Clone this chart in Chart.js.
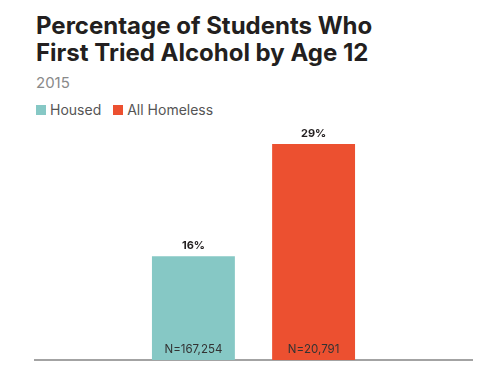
<!DOCTYPE html>
<html>
<head>
<meta charset="utf-8">
<script src="https://cdn.jsdelivr.net/npm/chart.js@4"></script>
<style>
    body { margin: 0; width: 502px; height: 378px; background: #fff; position: relative; overflow: hidden; font-family: Inter, 'Noto Sans', sans-serif; }
    #title { position: absolute; left: 36px; top: 12px; margin: 0; font-size: 24px; line-height: 27px; font-weight: 700; color: #231f20; letter-spacing: 0; }
    #subtitle { position: absolute; left: 36px; top: 73px; font-size: 15px; color: #8a8a8a; }
    #legend { position: absolute; left: 36px; top: 101px; display: flex; font-size: 14px; color: #555; }
    .legend-item { display: flex; align-items: center; margin-right: 12px; }
    .legend-swatch { width: 10px; height: 10px; margin-right: 4px; }
    #chart-wrap { position: absolute; left: 0; top: 0; width: 502px; height: 378px; }
</style>
</head>
<body>
<h1 id="title">Percentage of Students Who<br>First Tried Alcohol by Age 12</h1>
<div id="subtitle">2015</div>
<div id="legend"></div>
<div id="chart-wrap"><canvas id="chart" width="502" height="378"></canvas></div>
<script>
// one group (the year), one bar per student population
const categories = ['2015'];
const seriesNames = ['Housed', 'All Homeless'];
const seriesValues = [16, 29];          // percent
const sampleSizes = [167254, 20791];
const seriesColors = ['#86c8c5', '#ec5030'];

// the source chart's bars don't start from zero, its axis sits at ~4%
const yMin = 4;
const yMax = 32;

// legend as html, same order as the bars
const legend = document.getElementById('legend');
seriesNames.forEach((name, i) => {
    const item = document.createElement('div');
    item.className = 'legend-item';
    item.innerHTML = `<span class="legend-swatch" style="background:${seriesColors[i]}"></span>${name}`;
    legend.appendChild(item);
});

// percent above each bar, sample size inside the bottom of it
const barLabels = {
    id: 'barLabels',
    afterDatasetsDraw(chart) {
        const ctx = chart.ctx;
        ctx.save();
        ctx.textAlign = 'center';
        ctx.textBaseline = 'alphabetic';
        chart.data.datasets.forEach((ds, i) => {
            chart.getDatasetMeta(i).data.forEach(bar => {
                ctx.fillStyle = '#231f20';
                ctx.font = '700 11px Inter, sans-serif';
                ctx.fillText(ds.data[0] + '%', bar.x, bar.y - 7);
                ctx.fillStyle = '#333';
                ctx.font = '400 11.5px Inter, sans-serif';
                ctx.fillText('N=' + ds.sampleSize.toLocaleString('en-US'), bar.x, bar.base - 7);
            });
        });
        ctx.restore();
    },
};

new Chart(document.getElementById('chart'), {
    type: 'bar',
    data: {
        labels: categories,
        datasets: seriesNames.map((name, i) => ({
            label: name,
            data: [seriesValues[i]],
            sampleSize: sampleSizes[i],
            backgroundColor: seriesColors[i],
            base: yMin,
            categoryPercentage: 0.55,
            barPercentage: 0.69,
        })),
    },
    options: {
        responsive: false,
        animation: false,
        layout: { padding: { left: 35, right: 30, top: 118, bottom: 10 } },
        scales: {
            x: {
                grid: { display: false },
                ticks: { display: false },
                border: { display: true, color: '#a3a3a3', width: 2 },
            },
            y: { display: false, min: yMin, max: yMax },
        },
        plugins: {
            legend: { display: false },
            tooltip: { enabled: false },
        },
    },
    plugins: [barLabels],
});
</script>
</body>
</html>
